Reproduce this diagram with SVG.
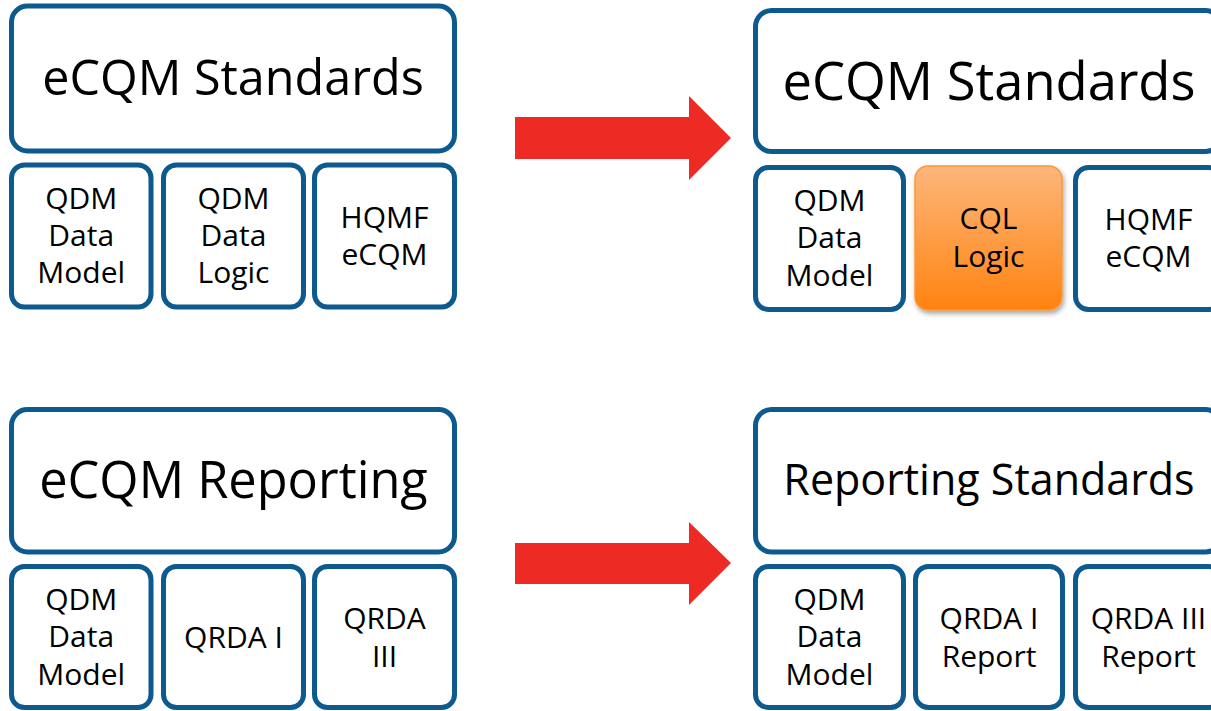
<svg xmlns="http://www.w3.org/2000/svg" width="1211" height="711" viewBox="0 0 1211 711">
  <style>
    .box { fill: #ffffff; stroke: #0D5A8F; stroke-width: 5; }
    .big { font-family: "Open Sans", "Noto Sans", sans-serif; fill: #000000; text-anchor: middle; }
    .sm { font-family: "Open Sans", "Noto Sans", sans-serif; font-size: 30px; fill: #000000; text-anchor: middle; }
    .arrow { fill: #EE2A24; }
  </style>
  <defs>
    <linearGradient id="orangeGrad" x1="0" y1="0" x2="0" y2="1">
      <stop offset="0" stop-color="#FDB67B"/>
      <stop offset="1" stop-color="#FF8310"/>
    </linearGradient>
    <filter id="shadow" x="-10%" y="-10%" width="130%" height="130%">
      <feDropShadow dx="1.5" dy="3" stdDeviation="2.5" flood-color="#000000" flood-opacity="0.35"/>
    </filter>
  </defs>

  <rect width="1211" height="711" fill="#ffffff"/>

  <!-- Top left -->
  <g id="tl-main">
    <rect class="box" x="11.5" y="6" width="443" height="145" rx="16"/>
    <text class="big" x="233" y="95" font-size="48.5">eCQM Standards</text>
  </g>
  <g id="tl-qdm-model">
    <rect class="box" x="11.5" y="165" width="139.5" height="142" rx="13"/>
    <text class="sm" x="81.25" y="209">QDM</text>
    <text class="sm" x="81.25" y="246">Data</text>
    <text class="sm" x="81.25" y="283">Model</text>
  </g>
  <g id="tl-qdm-logic">
    <rect class="box" x="163.5" y="165" width="140" height="142" rx="13"/>
    <text class="sm" x="233.5" y="209">QDM</text>
    <text class="sm" x="233.5" y="246">Data</text>
    <text class="sm" x="233.5" y="283">Logic</text>
  </g>
  <g id="tl-hqmf">
    <rect class="box" x="314.5" y="165" width="140" height="142" rx="13"/>
    <text class="sm" x="384.5" y="228">HQMF</text>
    <text class="sm" x="384.5" y="265">eCQM</text>
  </g>

  <!-- Top right -->
  <g id="tr-main">
    <rect class="box" x="755.5" y="10.5" width="466" height="141" rx="16"/>
    <text class="big" x="989" y="100" font-size="52.5">eCQM Standards</text>
  </g>
  <g id="tr-qdm-model">
    <rect class="box" x="755.5" y="167.5" width="148" height="142" rx="13"/>
    <text class="sm" x="829.5" y="211">QDM</text>
    <text class="sm" x="829.5" y="248">Data</text>
    <text class="sm" x="829.5" y="286">Model</text>
  </g>
  <g id="tr-cql">
    <rect x="915" y="166" width="147" height="144" rx="13" fill="url(#orangeGrad)" stroke="#F59A3F" stroke-width="1.5" filter="url(#shadow)"/>
    <text class="sm" x="988.5" y="229">CQL</text>
    <text class="sm" x="988.5" y="267">Logic</text>
  </g>
  <g id="tr-hqmf">
    <rect class="box" x="1075.5" y="167.5" width="146" height="142" rx="13"/>
    <text class="sm" x="1148.5" y="230">HQMF</text>
    <text class="sm" x="1148.5" y="267">eCQM</text>
  </g>

  <!-- Bottom left -->
  <g id="bl-main">
    <rect class="box" x="11.5" y="409.5" width="443" height="142.5" rx="16"/>
    <text class="big" x="233.5" y="498" font-size="50.5">eCQM Reporting</text>
  </g>
  <g id="bl-qdm-model">
    <rect class="box" x="11.5" y="566.5" width="139.5" height="141" rx="13"/>
    <text class="sm" x="81.25" y="610">QDM</text>
    <text class="sm" x="81.25" y="647">Data</text>
    <text class="sm" x="81.25" y="685">Model</text>
  </g>
  <g id="bl-qrda1">
    <rect class="box" x="163.5" y="566.5" width="140" height="141" rx="13"/>
    <text class="sm" x="233.5" y="648">QRDA I</text>
  </g>
  <g id="bl-qrda3">
    <rect class="box" x="314.5" y="566.5" width="140" height="141" rx="13"/>
    <text class="sm" x="384.5" y="629">QRDA</text>
    <text class="sm" x="384.5" y="667">III</text>
  </g>

  <!-- Bottom right -->
  <g id="br-main">
    <rect class="box" x="755.5" y="409.5" width="466" height="142.5" rx="16"/>
    <text class="big" x="989" y="495" font-size="43">Reporting Standards</text>
  </g>
  <g id="br-qdm-model">
    <rect class="box" x="755.5" y="566.5" width="148" height="141" rx="13"/>
    <text class="sm" x="829.5" y="610">QDM</text>
    <text class="sm" x="829.5" y="647">Data</text>
    <text class="sm" x="829.5" y="685">Model</text>
  </g>
  <g id="br-qrda1">
    <rect class="box" x="915.5" y="566.5" width="147" height="141" rx="13"/>
    <text class="sm" x="989" y="629">QRDA I</text>
    <text class="sm" x="989" y="667">Report</text>
  </g>
  <g id="br-qrda3">
    <rect class="box" x="1075.5" y="566.5" width="146" height="141" rx="13"/>
    <text class="sm" x="1148.5" y="629">QRDA III</text>
    <text class="sm" x="1148.5" y="667">Report</text>
  </g>

  <!-- Connectors -->
  <g id="connectors">
    <polygon class="arrow" points="515,117 689,117 689,96 731,138 689,180 689,159 515,159"/>
    <polygon class="arrow" points="515,543 689,543 689,522 731,563 689,605 689,584 515,584"/>
  </g>
</svg>
